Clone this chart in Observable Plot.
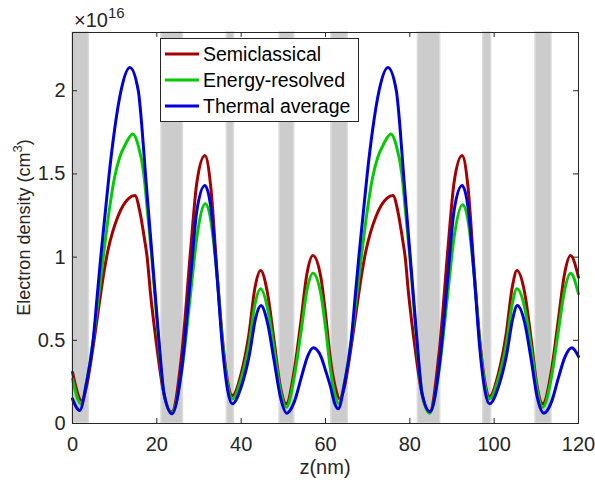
<!DOCTYPE html>
<html><head><meta charset="utf-8">
<script src="https://cdn.jsdelivr.net/npm/d3@7"></script>
<script src="https://cdn.jsdelivr.net/npm/@observablehq/plot@0.6"></script>
<style>
body{margin:0;background:#fff}
#chart{position:relative;width:595px;height:482px}
</style>
</head><body><div id="chart"></div>
<script>
// ---- data ----
const barrierStart = [0, 21.1, 36.6, 49.1, 61.4, 81.9, 97.4, 109.8];
const barrierEnd   = [3.9, 26.2, 38.3, 52.6, 65.3, 87.2, 99.3, 113.6];

const semiZ = [0,2.2,3.3,4.4,5.4,6.4,7.4,8.4,9.5,10.7,12.0,13.4,14.8,16.0,17.0,17.7,18.5,19.8,21.5,23.5,26.0,28.0,29.5,31.4,32.8,34.3,35.6,36.8,37.9,40.0,41.8,43.3,44.6,46.2,47.8,49.3,50.7,52.6,54.1,55.6,57.0,58.9,60.0,61.2,62.3,63.4,64.5,65.6,66.6,67.6,68.6,69.6,70.7,71.9,73.2,74.6,76.0,77.2,78.2,78.9,79.7,81.0,82.7,84.7,87.0,89.0,90.5,92.4,93.8,95.3,96.6,97.8,98.9,101.0,102.8,104.3,105.4,107.2,108.8,110.2,111.5,113.6,115.1,116.7,118.1,120];
const semiN = [0.308,0.138,0.22,0.38,0.55,0.73,0.90,1.04,1.15,1.24,1.31,1.355,1.37,1.27,1.12,1.00,0.78,0.50,0.20,0.07,0.44,1.04,1.45,1.61,1.42,0.90,0.50,0.25,0.168,0.30,0.53,0.82,0.919,0.79,0.50,0.22,0.118,0.32,0.60,0.90,1.009,0.879,0.66,0.38,0.22,0.148,0.22,0.38,0.55,0.73,0.90,1.04,1.15,1.24,1.31,1.355,1.37,1.27,1.12,1.00,0.78,0.50,0.20,0.07,0.44,1.04,1.45,1.61,1.42,0.90,0.50,0.25,0.162,0.30,0.53,0.82,0.919,0.79,0.50,0.22,0.118,0.32,0.60,0.90,1.009,0.879];

const energyZ = [0,2.0,3.4,4.9,6.1,7.3,8.6,9.9,11.2,12.6,14.3,15.6,16.9,17.9,18.8,19.6,20.4,21.7,23.5,26.0,28.0,29.5,31.5,32.8,34.3,35.6,36.8,37.9,40.0,41.9,43.3,44.6,46.2,47.8,49.3,50.7,52.6,54.2,55.6,57.0,58.9,60.0,61.2,62.2,63.1,64.6,66.1,67.3,68.5,69.8,71.1,72.4,73.8,75.5,76.8,78.1,79.1,80.0,80.8,81.6,82.9,84.7,87.0,89.0,90.5,92.5,93.8,95.3,96.6,97.8,98.9,101.0,102.9,104.3,105.4,107.2,108.8,110.2,111.5,113.6,115.2,116.7,118.1,120];
const energyN = [0.268,0.118,0.26,0.50,0.75,1.00,1.26,1.47,1.60,1.68,1.74,1.67,1.50,1.24,1.00,0.75,0.50,0.18,0.065,0.33,0.78,1.12,1.32,1.22,0.88,0.48,0.23,0.148,0.27,0.48,0.72,0.81,0.70,0.45,0.20,0.098,0.28,0.55,0.80,0.903,0.779,0.58,0.32,0.18,0.12,0.26,0.50,0.75,1.00,1.26,1.47,1.60,1.68,1.74,1.67,1.50,1.24,1.00,0.75,0.50,0.18,0.062,0.33,0.78,1.12,1.315,1.22,0.88,0.48,0.23,0.148,0.27,0.48,0.72,0.81,0.70,0.45,0.20,0.098,0.28,0.55,0.80,0.903,0.779];

const thermalZ = [0,1.7,3.3,4.9,5.8,6.7,7.7,8.7,10.0,11.5,13.6,15.6,16.5,17.3,18.1,18.9,19.7,20.5,21.7,23.6,26.0,28.0,29.5,31.4,32.8,34.3,35.6,36.8,37.9,40.0,42.0,43.4,44.7,46.2,47.8,49.3,50.8,52.6,54.3,55.7,57.1,58.9,60.0,61.2,62.2,63.0,64.5,66.1,67.0,67.9,68.9,69.9,71.2,72.7,74.8,76.8,77.7,78.5,79.3,80.1,80.9,81.7,82.9,84.8,87.0,89.0,90.5,92.4,93.8,95.3,96.6,97.8,98.9,101.0,103.0,104.4,105.5,107.2,108.8,110.2,111.8,113.6,115.3,116.8,118.4,120];
const thermalN = [0.148,0.078,0.24,0.50,0.75,1.00,1.25,1.50,1.77,2.00,2.14,2.00,1.77,1.50,1.25,1.00,0.75,0.50,0.18,0.058,0.35,0.88,1.28,1.43,1.30,0.88,0.45,0.20,0.118,0.22,0.42,0.63,0.709,0.61,0.38,0.16,0.062,0.13,0.28,0.40,0.455,0.403,0.32,0.22,0.12,0.088,0.24,0.50,0.75,1.00,1.25,1.50,1.77,2.00,2.14,2.00,1.77,1.50,1.25,1.00,0.75,0.50,0.18,0.07,0.35,0.88,1.28,1.43,1.30,0.88,0.45,0.20,0.118,0.22,0.42,0.63,0.709,0.61,0.38,0.16,0.062,0.13,0.28,0.40,0.455,0.403];

const seriesNames = ["Semiclassical", "Energy-resolved", "Thermal average"];
const seriesColors = ["#a40000", "#00cc00", "#0000dd"];
const xTicks = [0, 20, 40, 60, 80, 100, 120];
const yTicks = [0, 0.5, 1, 1.5, 2];
const yLabels = ["0", "0.5", "1", "1.5", "2"];

// ---- build ----
const barriers = barrierStart.map((a, i) => ({a, b: barrierEnd[i]}));
const toRows = (Z, N) => Z.map((z, i) => ({z, n: N[i]}));
const rows = [toRows(semiZ, semiN), toRows(energyZ, energyN), toRows(thermalZ, thermalN)];

const W = 595, H = 482, mL = 72, mR = 17, mT = 32, mB = 59;
const pw = W - mL - mR, ph = H - mT - mB;
const ink = "#262626";
const font = "'Liberation Sans', Arial, Helvetica, sans-serif";
const lw = 3;

const plot = Plot.plot({
  width: W, height: H,
  marginLeft: mL, marginRight: mR, marginTop: mT, marginBottom: mB,
  style: {fontFamily: font, background: "white", overflow: "visible"},
  x: {domain: [0, 120]},
  y: {domain: [0, 2.35]},
  marks: [
    Plot.rect(barriers, {x1: "a", x2: "b", fill: "#cccccc", stroke: "#dcdcdc", strokeWidth: 1.5}),
    ...rows.map((r, i) => Plot.line(r, {x: "z", y: "n", stroke: seriesColors[i], strokeWidth: lw, curve: "monotone-x"})),
    Plot.frame({stroke: ink, strokeWidth: 1}),
    Plot.ruleX(xTicks, {x: d => d, insetTop: ph - 5, stroke: ink}),
    Plot.ruleX(xTicks, {x: d => d, insetBottom: ph - 5, stroke: ink}),
    Plot.ruleY(yTicks, {y: d => d, insetRight: pw - 5, stroke: ink}),
    Plot.ruleY(yTicks, {y: d => d, insetLeft: pw - 5, stroke: ink}),
    Plot.axisX(xTicks, {tickSize: 0, tickPadding: 13, fontSize: 20, fill: ink, label: null, tickFormat: d => String(d)}),
    Plot.axisY(yTicks, {tickSize: 0, tickPadding: 7, fontSize: 20, fill: ink, label: null, tickFormat: d => yLabels[yTicks.indexOf(d)]})
  ]
});
document.getElementById("chart").appendChild(plot);

const svg = d3.select(plot);
// x label
svg.append("text").attr("x", mL + pw / 2).attr("y", 474).attr("text-anchor", "middle")
  .attr("font-family", font).attr("font-size", 20).attr("fill", ink).text("z(nm)");
// y label
const yl = svg.append("text").attr("transform", `translate(24,${mT + ph / 2}) rotate(-90)`)
  .attr("text-anchor", "middle").attr("dominant-baseline", "central")
  .attr("font-family", font).attr("font-size", 18).attr("fill", ink);
yl.append("tspan").text("Electron density (cm");
yl.append("tspan").attr("font-size", 13).attr("dy", -7).text("3");
yl.append("tspan").attr("dy", 7).text(")");
// exponent
const ex = svg.append("text").attr("x", 74).attr("y", 27).attr("text-anchor", "start")
  .attr("font-family", font).attr("font-size", 20).attr("fill", ink);
ex.append("tspan").text("\u00d710");
ex.append("tspan").attr("font-size", 15).attr("dy", -9).text("16");

// legend
const lg = svg.append("g");
lg.append("rect").attr("x", 160.5).attr("y", 38.5).attr("width", 198).attr("height", 83)
  .attr("fill", "white").attr("stroke", ink).attr("stroke-width", 1);
seriesNames.forEach((name, i) => {
  const y = 54 + i * 26;
  lg.append("line").attr("x1", 165).attr("x2", 199).attr("y1", y).attr("y2", y)
    .attr("stroke", seriesColors[i]).attr("stroke-width", lw);
  lg.append("text").attr("x", 203).attr("y", y).attr("text-anchor", "start").attr("dominant-baseline", "central")
    .attr("font-family", font).attr("font-size", 19.5).attr("fill", "#000").text(name);
});
</script>
</body></html>
